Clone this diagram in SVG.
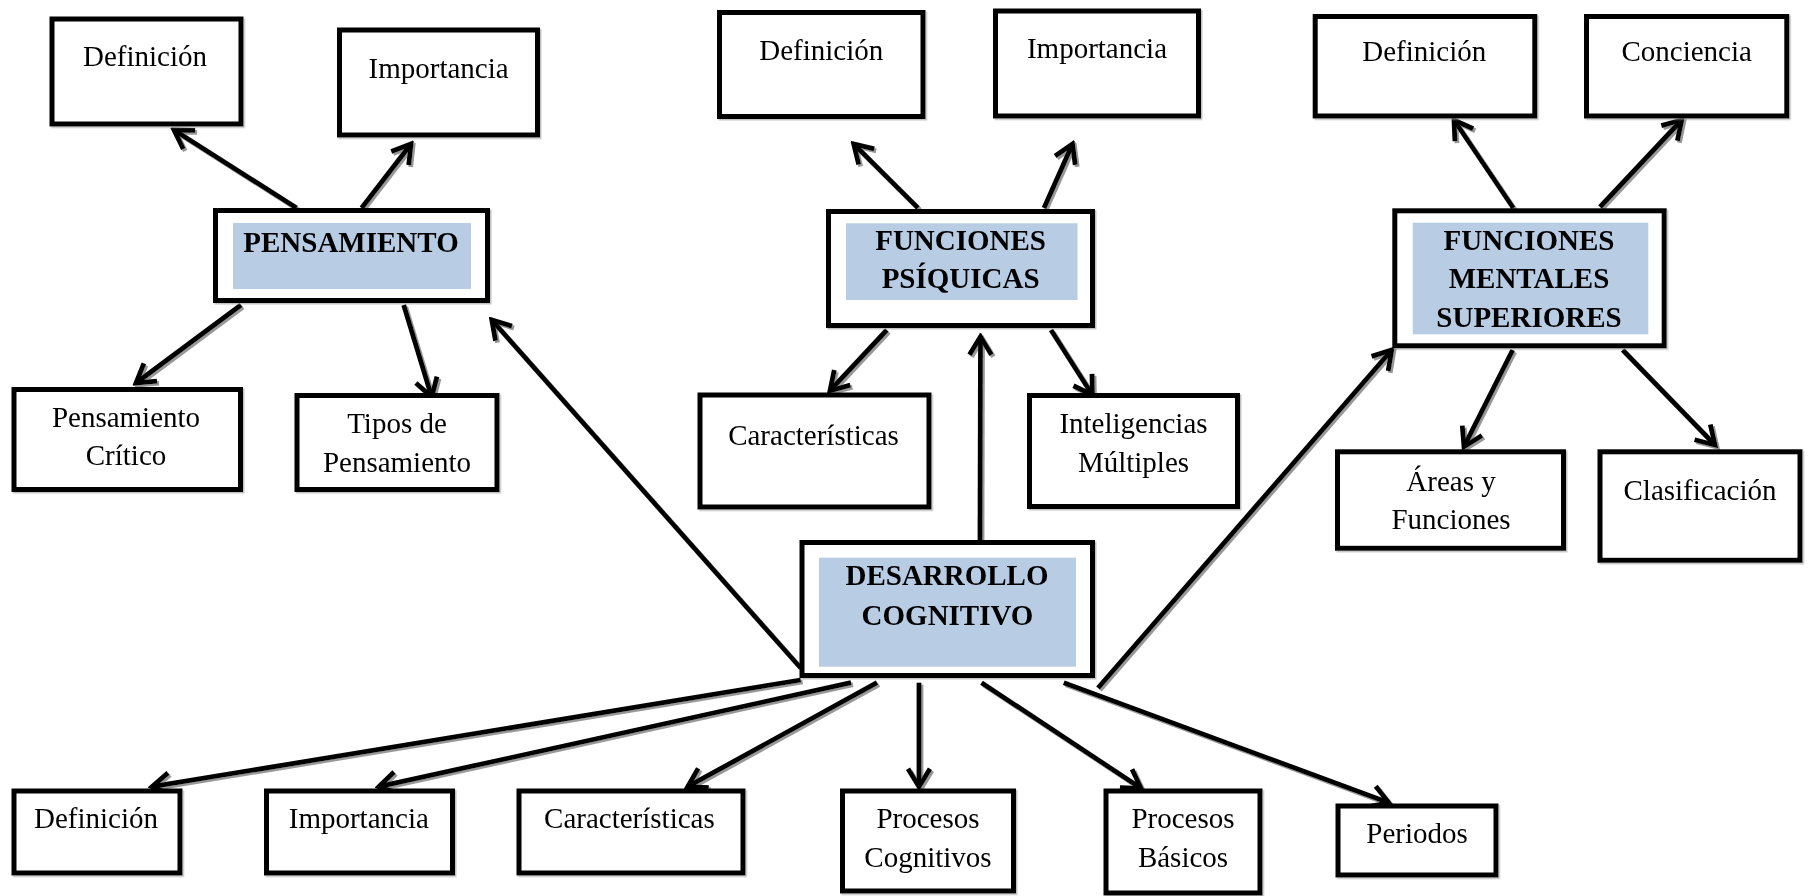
<svg xmlns="http://www.w3.org/2000/svg" width="1809" height="896" viewBox="0 0 1809 896">
<defs>
<style>
.box{fill:#fff;stroke:#000;stroke-width:5}
.hl{fill:#B8CCE4}
.t{font-family:"Liberation Serif","Times New Roman",serif;font-size:29px;text-anchor:middle;fill:#000}
.b{font-weight:bold}
.c{stroke:#000;stroke-width:4.8;fill:none;marker-end:url(#arr)}
</style>
<marker id="arr" markerUnits="userSpaceOnUse" viewBox="-24 -16 28 32" refX="0" refY="0" markerWidth="28" markerHeight="32" orient="auto">
<path d="M-18,-11 L0,0 L-18,11" fill="none" stroke="#000" stroke-width="4.8"/>
</marker>
<filter id="sh" x="-10%" y="-10%" width="120%" height="120%">
<feDropShadow dx="2" dy="2" stdDeviation="0.6" flood-color="#7f7f7f" flood-opacity="0.8"/>
</filter>
<filter id="shb" x="-10%" y="-10%" width="120%" height="120%">
<feDropShadow dx="1.5" dy="1.5" stdDeviation="0.5" flood-color="#999" flood-opacity="0.6"/>
</filter>
</defs>
<rect width="1809" height="896" fill="#fff"/>

<g id="connectors" filter="url(#sh)">
<line class="c" x1="296.6" y1="208" x2="174" y2="130"/>
<line class="c" x1="361.6" y1="208" x2="411" y2="144"/>
<line class="c" x1="241" y1="305" x2="136" y2="383"/>
<line class="c" x1="403.7" y1="305" x2="431.7" y2="397"/>
<line class="c" x1="918" y1="208" x2="853.7" y2="144"/>
<line class="c" x1="1044" y1="208" x2="1072.5" y2="144"/>
<line class="c" x1="886.8" y1="330" x2="830" y2="390.7"/>
<line class="c" x1="1051" y1="330" x2="1092.4" y2="395"/>
<line class="c" x1="1513.3" y1="208" x2="1454" y2="120"/>
<line class="c" x1="1600" y1="207" x2="1681.7" y2="120"/>
<line class="c" x1="1512.7" y1="350" x2="1464" y2="446.7"/>
<line class="c" x1="1622.7" y1="350" x2="1715" y2="445"/>
<line class="c" x1="800.7" y1="668" x2="491.8" y2="320"/>
<line class="c" x1="980" y1="541" x2="980.5" y2="336.7"/>
<line class="c" x1="1098" y1="688" x2="1391.7" y2="350"/>
<line class="c" x1="800.7" y1="680" x2="152" y2="786.7"/>
<line class="c" x1="851" y1="682.7" x2="378.8" y2="786.7"/>
<line class="c" x1="877" y1="682.7" x2="687.7" y2="786.7"/>
<line class="c" x1="919" y1="682.7" x2="919" y2="786.7"/>
<line class="c" x1="981.5" y1="682.7" x2="1141" y2="788.3"/>
<line class="c" x1="1063.8" y1="682.7" x2="1388.8" y2="802.7"/>
</g>

<g id="pensamiento" filter="url(#shb)">
<rect class="box" x="215.5" y="210.5" width="272" height="90"/>
<rect class="hl" x="233" y="223" width="238" height="66"/>
<text class="t b" x="351" y="252">PENSAMIENTO</text>
</g>
<g id="p-definicion" filter="url(#shb)">
<rect class="box" x="52" y="19" width="189" height="105"/>
<text class="t" x="145" y="66">Definición</text>
</g>
<g id="p-importancia" filter="url(#shb)">
<rect class="box" x="339.5" y="30" width="198" height="105"/>
<text class="t" x="438.6" y="78">Importancia</text>
</g>
<g id="p-critico" filter="url(#shb)">
<rect class="box" x="14" y="389.5" width="226.5" height="100"/>
<text class="t" x="126" y="427">Pensamiento</text>
<text class="t" x="126" y="465">Crítico</text>
</g>
<g id="p-tipos" filter="url(#shb)">
<rect class="box" x="297" y="395.5" width="200" height="94"/>
<text class="t" x="397" y="433">Tipos de</text>
<text class="t" x="397" y="472">Pensamiento</text>
</g>

<g id="funciones-psiquicas" filter="url(#shb)">
<rect class="box" x="828.5" y="211.5" width="264" height="114"/>
<rect class="hl" x="846" y="223.3" width="231.5" height="76.7"/>
<text class="t b" x="960.6" y="250">FUNCIONES</text>
<text class="t b" x="960.6" y="288.3">PSÍQUICAS</text>
</g>
<g id="f-definicion" filter="url(#shb)">
<rect class="box" x="719.5" y="12.5" width="203.5" height="104"/>
<text class="t" x="821.3" y="60">Definición</text>
</g>
<g id="f-importancia" filter="url(#shb)">
<rect class="box" x="995.5" y="11" width="203" height="105"/>
<text class="t" x="1097" y="58">Importancia</text>
</g>
<g id="f-caracteristicas" filter="url(#shb)">
<rect class="box" x="700" y="395" width="229" height="112"/>
<text class="t" x="813.5" y="445">Características</text>
</g>
<g id="f-inteligencias" filter="url(#shb)">
<rect class="box" x="1029.5" y="395.5" width="208" height="111"/>
<text class="t" x="1133.5" y="433">Inteligencias</text>
<text class="t" x="1133.5" y="471.7">Múltiples</text>
</g>

<g id="funciones-mentales" filter="url(#shb)">
<rect class="box" x="1394.8" y="210.8" width="269.4" height="135"/>
<rect class="hl" x="1412.7" y="222.7" width="235.6" height="111.6"/>
<text class="t b" x="1529" y="250">FUNCIONES</text>
<text class="t b" x="1529" y="288.3">MENTALES</text>
<text class="t b" x="1529" y="327.3">SUPERIORES</text>
</g>
<g id="m-definicion" filter="url(#shb)">
<rect class="box" x="1315.2" y="16.5" width="219.6" height="99.5"/>
<text class="t" x="1424.3" y="61">Definición</text>
</g>
<g id="m-conciencia" filter="url(#shb)">
<rect class="box" x="1586.5" y="16.5" width="200.3" height="99.5"/>
<text class="t" x="1686.7" y="61">Conciencia</text>
</g>
<g id="m-areas" filter="url(#shb)">
<rect class="box" x="1337.5" y="451.8" width="226" height="96.5"/>
<text class="t" x="1451" y="490.7">Áreas y</text>
<text class="t" x="1451" y="529.3">Funciones</text>
</g>
<g id="m-clasificacion" filter="url(#shb)">
<rect class="box" x="1600" y="451.8" width="200" height="108.5"/>
<text class="t" x="1700" y="500">Clasificación</text>
</g>

<g id="desarrollo-cognitivo" filter="url(#shb)">
<rect class="box" x="802" y="542.5" width="290.5" height="133"/>
<rect class="hl" x="819" y="557.7" width="257" height="109"/>
<text class="t b" x="947" y="585">DESARROLLO</text>
<text class="t b" x="947.5" y="625">COGNITIVO</text>
</g>
<g id="d-definicion" filter="url(#shb)">
<rect class="box" x="14" y="791" width="166" height="82"/>
<text class="t" x="96" y="828">Definición</text>
</g>
<g id="d-importancia" filter="url(#shb)">
<rect class="box" x="266.5" y="791" width="186" height="82"/>
<text class="t" x="358.8" y="828">Importancia</text>
</g>
<g id="d-caracteristicas" filter="url(#shb)">
<rect class="box" x="519" y="791" width="224" height="82"/>
<text class="t" x="629.4" y="828">Características</text>
</g>
<g id="d-procesos-cognitivos" filter="url(#shb)">
<rect class="box" x="842.5" y="791" width="171" height="100"/>
<text class="t" x="928" y="828.3">Procesos</text>
<text class="t" x="928" y="866.7">Cognitivos</text>
</g>
<g id="d-procesos-basicos" filter="url(#shb)">
<rect class="box" x="1106" y="791" width="154" height="102"/>
<text class="t" x="1183" y="828.3">Procesos</text>
<text class="t" x="1183" y="866.7">Básicos</text>
</g>
<g id="d-periodos" filter="url(#shb)">
<rect class="box" x="1338" y="806" width="158" height="69"/>
<text class="t" x="1417" y="842.7">Periodos</text>
</g>
</svg>
